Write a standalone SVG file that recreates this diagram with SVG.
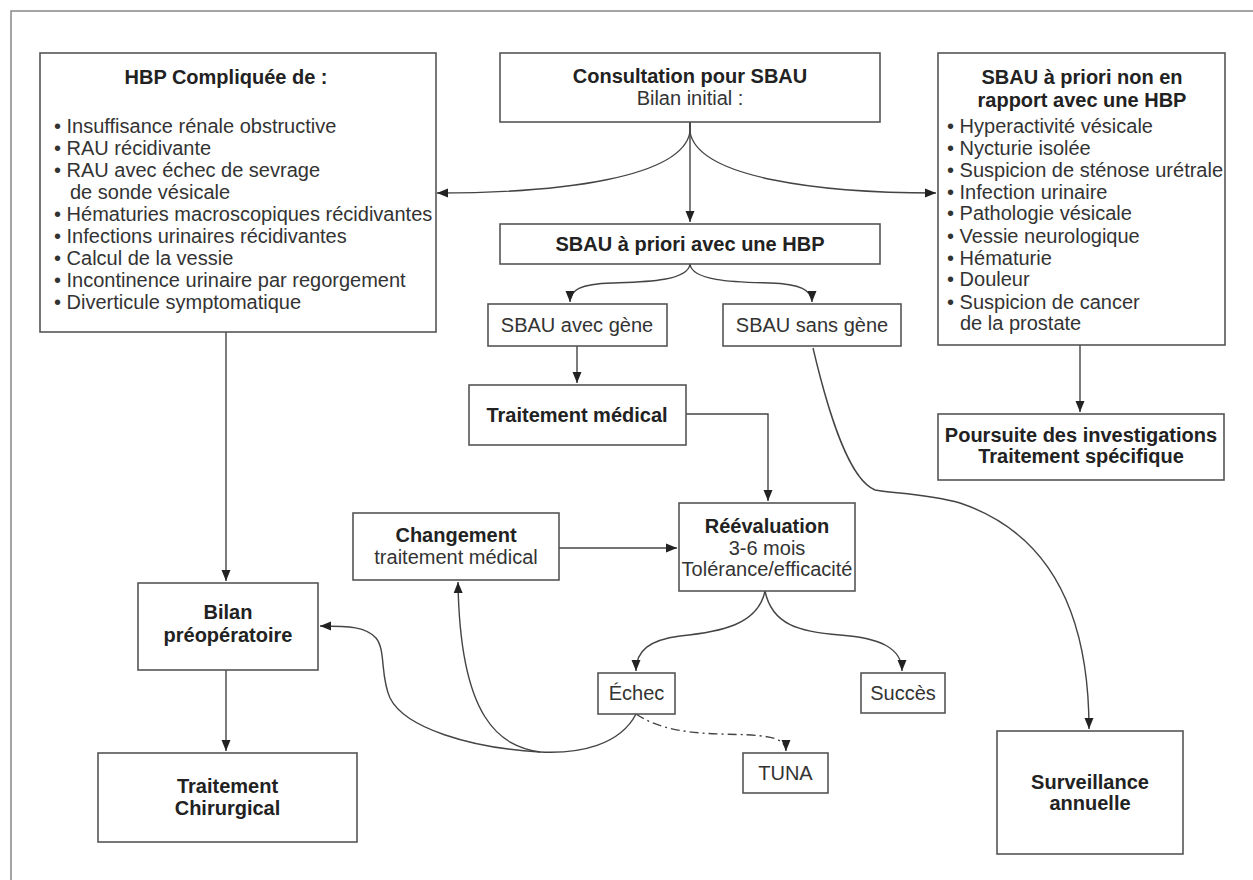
<svg xmlns="http://www.w3.org/2000/svg" width="1253" height="880" viewBox="0 0 1253 880">
<style>
.box{fill:#fff;stroke:#555;stroke-width:1.6}
.t{font-family:"Liberation Sans",Arial,sans-serif;font-size:20px;fill:#333}
.b{font-family:"Liberation Sans",Arial,sans-serif;font-size:20px;font-weight:bold;fill:#222}
.c{text-anchor:middle}
.e{fill:none;stroke:#444;stroke-width:1.4}
.d{stroke-dasharray:9,4,2,4}
</style>
<defs>
<marker id="ah" markerUnits="userSpaceOnUse" markerWidth="12" markerHeight="12" viewBox="0 0 12 12" refX="11" refY="6" orient="auto">
<path d="M0,1.5 L11,6 L0,10.5 Z" fill="#222"/>
</marker>
</defs>
<rect width="1253" height="880" fill="#fff"/>
<path d="M11,880 V11 H1253" fill="none" stroke="#888" stroke-width="1.5"/>

<g id="connectors">
<path class="e" d="M690,122 V222" marker-end="url(#ah)"/>
<path class="e" d="M690,122 V132 C682,178 560,193 437,193" marker-end="url(#ah)"/>
<path class="e" d="M690,122 V132 C698,178 820,193 936,193" marker-end="url(#ah)"/>
<path class="e" d="M690,264 C688,282 640,282 612,283 C580,284 570,290 570,302" marker-end="url(#ah)"/>
<path class="e" d="M690,264 C692,282 740,282 770,283 C800,284 812,290 812,302" marker-end="url(#ah)"/>
<path class="e" d="M577,346 V383" marker-end="url(#ah)"/>
<path class="e" d="M686,414 H768 V501" marker-end="url(#ah)"/>
<path class="e" d="M559,548 H677" marker-end="url(#ah)"/>
<path class="e" d="M1080,345 V412" marker-end="url(#ah)"/>
<path class="e" d="M226,332 V581" marker-end="url(#ah)"/>
<path class="e" d="M226,670 V751" marker-end="url(#ah)"/>
<path class="e" d="M765,591 C758,625 720,632 680,636 C650,640 636,650 636,671" marker-end="url(#ah)"/>
<path class="e" d="M765,591 C772,625 800,632 840,635 C880,638 902,648 902,671" marker-end="url(#ah)"/>
<path class="e" d="M813,348 C830,420 850,480 875,490 C890,493 930,494 960,503 C1040,530 1089,600 1089,729" marker-end="url(#ah)"/>
<path class="e d" d="M636,714 C660,730 690,733 720,734 C760,735 786,735 786,751" marker-end="url(#ah)"/>
<path class="e" d="M636,714 C620,745 580,754 540,752 C470,748 405,728 390,698 C380,676 386,650 376,638 C366,627 350,626 320,626" marker-end="url(#ah)"/>
<path class="e" d="M540,752 C500,746 460,720 458,582" marker-end="url(#ah)"/>
</g>

<g id="hbp-compliquee">
<rect class="box" x="40" y="53" width="396" height="279"/>
<text class="b c" x="226" y="84">HBP Compliquée de :</text>
<text class="t" x="54" y="133">• Insuffisance rénale obstructive</text>
<text class="t" x="54" y="155">• RAU récidivante</text>
<text class="t" x="54" y="177">• RAU avec échec de sevrage</text>
<text class="t" x="70" y="199">de sonde vésicale</text>
<text class="t" x="54" y="221">• Hématuries macroscopiques récidivantes</text>
<text class="t" x="54" y="243">• Infections urinaires récidivantes</text>
<text class="t" x="54" y="265">• Calcul de la vessie</text>
<text class="t" x="54" y="287">• Incontinence urinaire par regorgement</text>
<text class="t" x="54" y="309">• Diverticule symptomatique</text>
</g>

<g id="consultation">
<rect class="box" x="500" y="53" width="380" height="69"/>
<text class="b c" x="690" y="83">Consultation pour SBAU</text>
<text class="t c" x="690" y="105">Bilan initial :</text>
</g>

<g id="sbau-non-hbp">
<rect class="box" x="938" y="53" width="287" height="292"/>
<text class="b c" x="1082" y="84">SBAU à priori non en</text>
<text class="b c" x="1082" y="107">rapport avec une HBP</text>
<text class="t" x="947" y="133">• Hyperactivité vésicale</text>
<text class="t" x="947" y="155">• Nycturie isolée</text>
<text class="t" x="947" y="177">• Suspicion de sténose urétrale</text>
<text class="t" x="947" y="199">• Infection urinaire</text>
<text class="t" x="947" y="220">• Pathologie vésicale</text>
<text class="t" x="947" y="243">• Vessie neurologique</text>
<text class="t" x="947" y="265">• Hématurie</text>
<text class="t" x="947" y="286">• Douleur</text>
<text class="t" x="947" y="309">• Suspicion de cancer</text>
<text class="t" x="960" y="330">de la prostate</text>
</g>

<g id="sbau-hbp">
<rect class="box" x="500" y="224" width="380" height="40"/>
<text class="b c" x="690" y="251">SBAU à priori avec une HBP</text>
</g>

<g id="avec-gene">
<rect class="box" x="488" y="304" width="179" height="42"/>
<text class="t c" x="577" y="332">SBAU avec gène</text>
</g>

<g id="sans-gene">
<rect class="box" x="723" y="304" width="178" height="42"/>
<text class="t c" x="812" y="332">SBAU sans gène</text>
</g>

<g id="traitement-medical">
<rect class="box" x="469" y="385" width="217" height="60"/>
<text class="b c" x="577" y="422">Traitement médical</text>
</g>

<g id="poursuite">
<rect class="box" x="938" y="414" width="286" height="66"/>
<text class="b c" x="1081" y="442">Poursuite des investigations</text>
<text class="b c" x="1081" y="463">Traitement spécifique</text>
</g>

<g id="changement">
<rect class="box" x="353" y="513" width="206" height="67"/>
<text class="b c" x="456" y="542">Changement</text>
<text class="t c" x="456" y="564">traitement médical</text>
</g>

<g id="reevaluation">
<rect class="box" x="679" y="503" width="176" height="88"/>
<text class="b c" x="767" y="533">Réévaluation</text>
<text class="t c" x="767" y="555">3-6 mois</text>
<text class="t c" x="767" y="576">Tolérance/efficacité</text>
</g>

<g id="bilan">
<rect class="box" x="138" y="583" width="180" height="87"/>
<text class="b c" x="228" y="619">Bilan</text>
<text class="b c" x="228" y="642">préopératoire</text>
</g>

<g id="echec">
<rect class="box" x="598" y="673" width="77" height="41"/>
<text class="t c" x="636.5" y="700">Échec</text>
</g>

<g id="succes">
<rect class="box" x="861" y="673" width="84" height="40"/>
<text class="t c" x="903" y="700">Succès</text>
</g>

<g id="tuna">
<rect class="box" x="743" y="753" width="85" height="40"/>
<text class="t c" x="785.5" y="780">TUNA</text>
</g>

<g id="traitement-chirurgical">
<rect class="box" x="98" y="753" width="259" height="89"/>
<text class="b c" x="227.5" y="793">Traitement</text>
<text class="b c" x="227.5" y="815">Chirurgical</text>
</g>

<g id="surveillance">
<rect class="box" x="997" y="731" width="186" height="123"/>
<text class="b c" x="1090" y="789">Surveillance</text>
<text class="b c" x="1090" y="810">annuelle</text>
</g>
</svg>
